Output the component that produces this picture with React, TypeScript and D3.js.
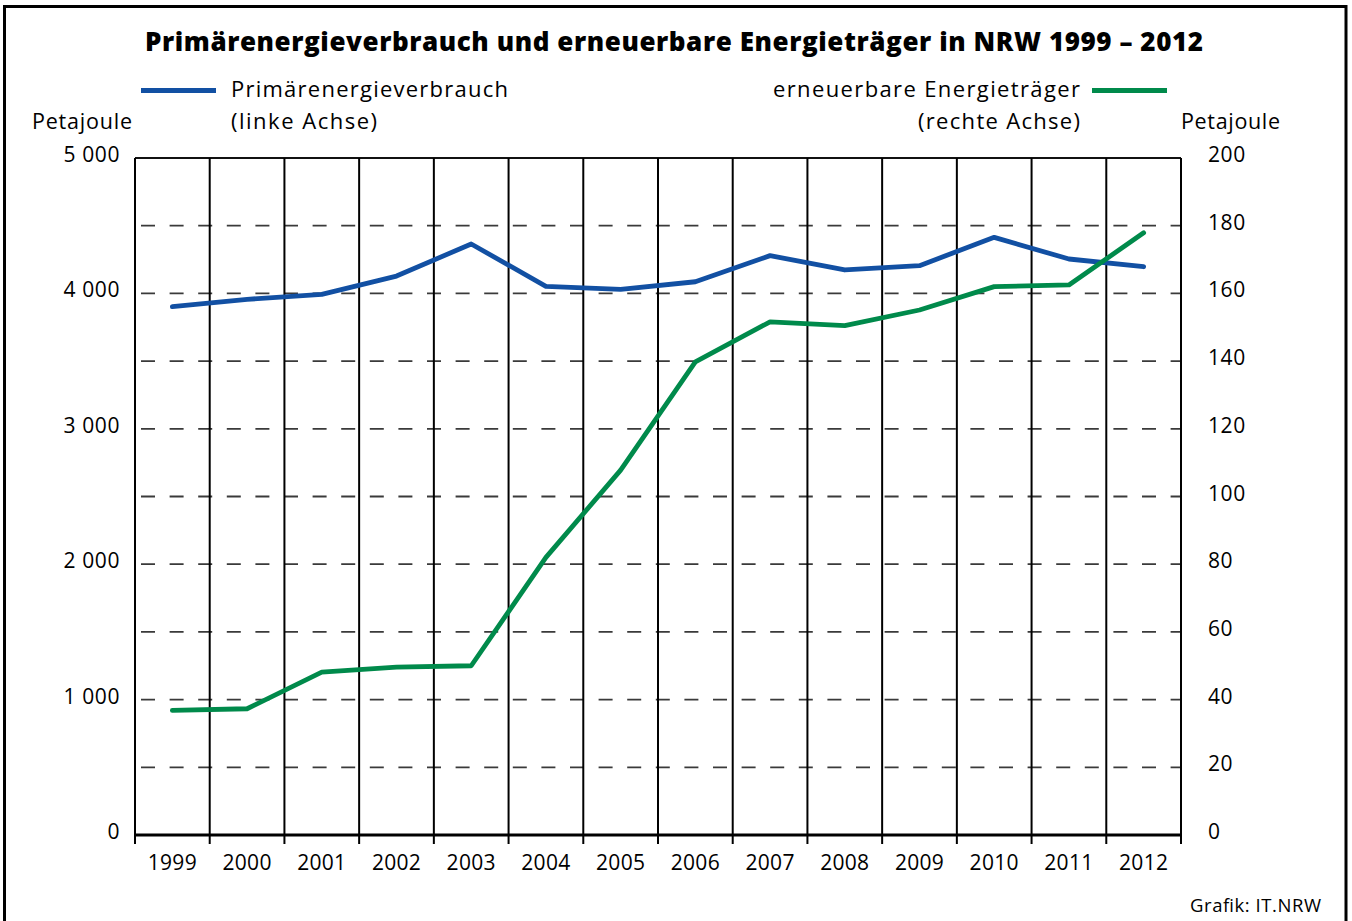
import * as d3 from 'd3'

const YEARS = ['1999', '2000', '2001', '2002', '2003', '2004', '2005', '2006', '2007', '2008', '2009', '2010', '2011', '2012']
// Petajoule, linke Achse
const PRIMARY = [3902, 3956, 3993, 4128, 4365, 4052, 4030, 4086, 4279, 4173, 4205, 4414, 4254, 4197]
// Petajoule, rechte Achse
const RENEWABLE = [36.8, 37.3, 48.1, 49.6, 50.0, 82.0, 107.8, 139.8, 151.6, 150.5, 155.1, 162.0, 162.5, 177.9]
const LEFT_TICKS = [0, 1000, 2000, 3000, 4000, 5000]
const RIGHT_TICKS = [0, 20, 40, 60, 80, 100, 120, 140, 160, 180, 200]
const GRID_VALUES = [500, 1000, 1500, 2000, 2500, 3000, 3500, 4000, 4500]

const W = 1352
const H = 921
const PLOT = { left: 135, right: 1181, top: 158, bottom: 835 }
const BLUE = '#1250A3'
const GREEN = '#008A4B'
const FONT = "'Open Sans', 'Noto Sans', sans-serif"

const fmt = (v: number) => d3.format(',')(v).replace(/,/g, ' ')

export default function App() {
  const x = d3.scaleBand<string>().domain(YEARS).range([PLOT.left, PLOT.right])
  const yL = d3.scaleLinear().domain([0, 5000]).range([PLOT.bottom, PLOT.top])
  const yR = d3.scaleLinear().domain([0, 200]).range([PLOT.bottom, PLOT.top])
  const cx = (i: number) => (x(YEARS[i]) ?? 0) + x.bandwidth() / 2

  const primLine = d3.line<number>().x((_, i) => cx(i)).y((d) => yL(d))(PRIMARY) ?? ''
  const renLine = d3.line<number>().x((_, i) => cx(i)).y((d) => yR(d))(RENEWABLE) ?? ''

  const boundaries = [...YEARS.map((y) => x(y) ?? 0), PLOT.right]

  return (
    <svg width={W} height={H} style={{ position: 'absolute', left: 0, top: 0, background: '#fff' }} fontFamily={FONT}>
      <rect x={0} y={0} width={W} height={H} fill="#fff" />
      {/* frame */}
      <rect x={4.5} y={6.5} width={1341.5} height={1000} fill="none" stroke="#000" strokeWidth={3} />

      <text x={145} y={51} fontSize={26} fontWeight={800} fill="#000" textLength={1058} lengthAdjust="spacing">
        Primärenergieverbrauch und erneuerbare Energieträger in NRW 1999 – 2012
      </text>

      {/* legend */}
      <line x1={141} x2={216} y1={90.5} y2={90.5} stroke={BLUE} strokeWidth={5} />
      <text x={231} y={97} fontSize={22} fill="#000" textLength={277} lengthAdjust="spacing">Primärenergieverbrauch</text>
      <text x={231} y={129} fontSize={22} fill="#000" textLength={146} lengthAdjust="spacing">(linke Achse)</text>
      <line x1={1092} x2={1167} y1={90.5} y2={90.5} stroke={GREEN} strokeWidth={5} />
      <text x={773} y={97} fontSize={22} fill="#000" textLength={307} lengthAdjust="spacing">erneuerbare Energieträger</text>
      <text x={918} y={129} fontSize={22} fill="#000" textLength={162} lengthAdjust="spacing">(rechte Achse)</text>

      <text x={32} y={129} fontSize={21.5} fill="#000" textLength={100} lengthAdjust="spacing">Petajoule</text>
      <text x={1181} y={129} fontSize={21.5} fill="#000" textLength={99} lengthAdjust="spacing">Petajoule</text>

      {/* horizontal dashed grid */}
      {GRID_VALUES.map((v) => (
        <line key={v} x1={PLOT.left} x2={PLOT.right} y1={yL(v)} y2={yL(v)} stroke="#3a3a3a" strokeWidth={1.8} strokeDasharray="14,14.6" strokeDashoffset={-6} />
      ))}
      {/* top line */}
      <line x1={PLOT.left} x2={PLOT.right} y1={PLOT.top} y2={PLOT.top} stroke="#111" strokeWidth={2} />

      {/* vertical grid + ticks */}
      {boundaries.map((bx, i) => (
        <line key={i} x1={bx} x2={bx} y1={PLOT.top} y2={PLOT.bottom + 9} stroke="#000" strokeWidth={2} />
      ))}
      {/* bottom axis */}
      <line x1={PLOT.left - 1} x2={PLOT.right + 1} y1={PLOT.bottom} y2={PLOT.bottom} stroke="#000" strokeWidth={3} />

      {/* left ticks */}
      {LEFT_TICKS.map((t) => (
        <text key={t} x={120} y={yL(t) + 4} fontSize={21} letterSpacing={0.6} textAnchor="end" fill="#000">{fmt(t)}</text>
      ))}
      {/* right ticks */}
      {RIGHT_TICKS.map((t) => (
        <text key={t} x={1208} y={yR(t) + 4} fontSize={21} letterSpacing={0.6} fill="#000">{t}</text>
      ))}
      {/* x labels */}
      {YEARS.map((yr, i) => (
        <text key={yr} x={cx(i)} y={870} fontSize={21} letterSpacing={0.3} textAnchor="middle" fill="#000">{yr}</text>
      ))}

      <path d={primLine} fill="none" stroke={BLUE} strokeWidth={4.8} strokeLinecap="round" strokeLinejoin="round" />
      <path d={renLine} fill="none" stroke={GREEN} strokeWidth={4.8} strokeLinecap="round" strokeLinejoin="round" />

      <text x={1190} y={912} fontSize={18.5} fill="#000" textLength={131} lengthAdjust="spacing">Grafik: IT.NRW</text>
    </svg>
  )
}
